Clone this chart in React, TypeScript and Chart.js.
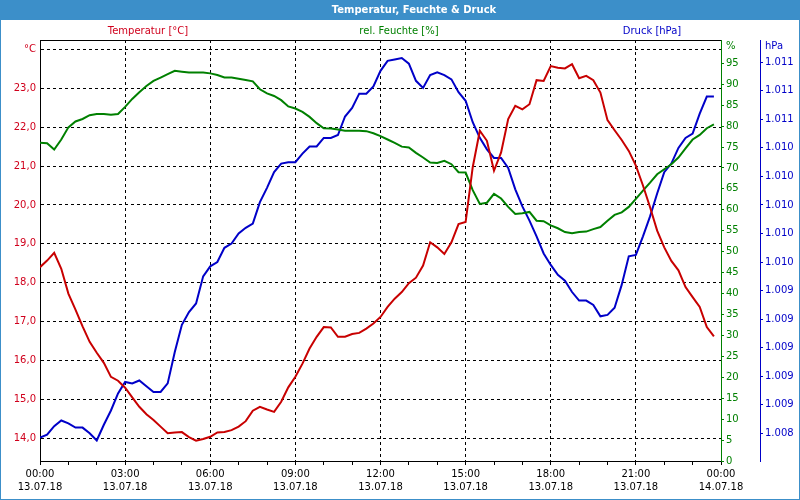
import React, { useEffect, useRef } from "react";
import { Chart, registerables } from "chart.js";

Chart.register(...registerables);

const times = [
  0, 0.25, 0.5, 0.75, 1, 1.25, 1.5, 1.75, 2, 2.25, 2.5, 2.75,
  3, 3.25, 3.5, 3.75, 4, 4.25, 4.5, 4.75, 5, 5.25, 5.5, 5.75,
  6, 6.25, 6.5, 6.75, 7, 7.25, 7.5, 7.75, 8, 8.25, 8.5, 8.75,
  9, 9.25, 9.5, 9.75, 10, 10.25, 10.5, 10.75, 11, 11.25, 11.5, 11.75,
  12, 12.25, 12.5, 12.75, 13, 13.25, 13.5, 13.75, 14, 14.25, 14.5, 14.75,
  15, 15.25, 15.5, 15.75, 16, 16.25, 16.5, 16.75, 17, 17.25, 17.5, 17.75,
  18, 18.25, 18.5, 18.75, 19, 19.25, 19.5, 19.75, 20, 20.25, 20.5, 20.75,
  21, 21.25, 21.5, 21.75, 22, 22.25, 22.5, 22.75, 23, 23.25, 23.5, 23.75,
];

const temperature = [
  18.40, 18.57, 18.77, 18.36, 17.72, 17.31, 16.88, 16.48, 16.20, 15.94, 15.58, 15.48,
  15.30, 15.05, 14.81, 14.62, 14.47, 14.30, 14.13, 14.15, 14.16, 14.03, 13.94, 13.98,
  14.04, 14.15, 14.16, 14.21, 14.30, 14.44, 14.71, 14.81, 14.74, 14.68, 14.94, 15.31,
  15.58, 15.92, 16.31, 16.61, 16.86, 16.85, 16.61, 16.61, 16.68, 16.71, 16.82, 16.95,
  17.12, 17.38, 17.59, 17.76, 17.99, 18.13, 18.44, 19.04, 18.91, 18.74, 19.04, 19.51,
  19.56, 20.97, 21.91, 21.65, 20.88, 21.35, 22.21, 22.55, 22.46, 22.59, 23.21, 23.19,
  23.57, 23.53, 23.51, 23.62, 23.26, 23.32, 23.21, 22.89, 22.18, 21.92, 21.67, 21.39,
  21.01, 20.50, 19.94, 19.34, 18.91, 18.56, 18.32, 17.89, 17.63, 17.38, 16.86, 16.62,
];

const humidity = [
  76.0, 75.9, 74.4, 76.8, 79.7, 81.1, 81.7, 82.6, 82.9, 82.9, 82.7, 82.9,
  84.6, 86.5, 88.1, 89.6, 90.8, 91.6, 92.4, 93.2, 93.0, 92.8, 92.8, 92.8,
  92.6, 92.2, 91.6, 91.6, 91.3, 91.0, 90.7, 88.8, 87.8, 87.2, 86.2, 84.7,
  84.2, 83.4, 82.2, 80.7, 79.5, 79.4, 79.2, 78.9, 78.9, 78.9, 78.8, 78.3,
  77.6, 76.8, 76.0, 75.1, 74.9, 73.6, 72.5, 71.3, 71.2, 71.7, 70.9, 69.0,
  68.9, 64.7, 61.4, 61.7, 63.8, 62.7, 60.7, 59.0, 59.2, 59.5, 57.4, 57.3,
  56.3, 55.6, 54.7, 54.4, 54.7, 54.8, 55.4, 55.9, 57.4, 58.8, 59.4, 60.7,
  62.6, 64.6, 66.5, 68.5, 69.7, 70.9, 72.5, 74.7, 76.8, 77.9, 79.5, 80.4,
];

const pressure = [
  1008.37, 1008.39, 1008.45, 1008.49, 1008.47, 1008.44, 1008.44, 1008.40, 1008.35, 1008.46, 1008.56, 1008.68,
  1008.76, 1008.75, 1008.77, 1008.73, 1008.69, 1008.69, 1008.75, 1008.97, 1009.16, 1009.25, 1009.31, 1009.50,
  1009.57, 1009.60, 1009.70, 1009.73, 1009.80, 1009.84, 1009.87, 1010.02, 1010.12, 1010.23, 1010.29, 1010.30,
  1010.30, 1010.36, 1010.41, 1010.41, 1010.47, 1010.47, 1010.49, 1010.62, 1010.68, 1010.78, 1010.78, 1010.83,
  1010.94, 1011.01, 1011.02, 1011.03, 1010.99, 1010.87, 1010.82, 1010.91, 1010.93, 1010.91, 1010.88, 1010.79,
  1010.73, 1010.58, 1010.47, 1010.39, 1010.33, 1010.33, 1010.26, 1010.11, 1009.99, 1009.89, 1009.78, 1009.66,
  1009.58, 1009.51, 1009.47, 1009.39, 1009.33, 1009.33, 1009.30, 1009.22, 1009.23, 1009.28, 1009.44, 1009.64,
  1009.65, 1009.78, 1009.92, 1010.08, 1010.23, 1010.29, 1010.40, 1010.47, 1010.50, 1010.64, 1010.76, 1010.76,
];

const tempTicks = [14, 15, 16, 17, 18, 19, 20, 21, 22, 23, 24];
const humidityTicks = [0, 5, 10, 15, 20, 25, 30, 35, 40, 45, 50, 55, 60, 65, 70, 75, 80, 85, 90, 95];
const pressureTicks = [1008.4, 1008.6, 1008.8, 1009.0, 1009.2, 1009.4, 1009.6, 1009.8, 1010.0, 1010.2, 1010.4, 1010.6, 1010.8, 1011.0];
const timeLabels = ["00:00", "03:00", "06:00", "09:00", "12:00", "15:00", "18:00", "21:00", "00:00"];
const dateLabels = ["13.07.18", "13.07.18", "13.07.18", "13.07.18", "13.07.18", "13.07.18", "13.07.18", "13.07.18", "14.07.18"];

const TITLE = "Temperatur, Feuchte & Druck";
const RED = "#c80000";
const RED_TEXT = "#d0001c";
const GREEN = "#008000";
const BLUE = "#0000c8";
const FRAME = "#3c8fc9";
const FONT = "DejaVu Sans";

const framePlugin = {
  id: "frame",
  beforeDraw(chart: any) {
    const ctx = chart.ctx;
    const w = chart.width;
    const h = chart.height;
    ctx.save();
    ctx.fillStyle = "#ffffff";
    ctx.fillRect(0, 0, w, h);
    ctx.fillStyle = FRAME;
    ctx.fillRect(0, 0, w, 20);
    ctx.strokeStyle = FRAME;
    ctx.lineWidth = 1;
    ctx.strokeRect(0.5, 0.5, w - 1, h - 1);
    ctx.fillStyle = "#ffffff";
    ctx.font = `bold 10px "${FONT}"`;
    ctx.textAlign = "center";
    ctx.textBaseline = "middle";
    ctx.fillText(TITLE, 414, 10);
    ctx.font = `10px "${FONT}"`;
    ctx.fillStyle = RED_TEXT;
    ctx.fillText("Temperatur [°C]", 148, 31);
    ctx.fillStyle = GREEN;
    ctx.fillText("rel. Feuchte [%]", 399, 31);
    ctx.fillStyle = BLUE;
    ctx.fillText("Druck [hPa]", 652, 31);
    ctx.textAlign = "left";
    ctx.fillStyle = GREEN;
    ctx.fillText("%", 726, 46);
    ctx.fillStyle = BLUE;
    ctx.fillText("hPa", 765, 46);
    ctx.restore();
  },
  afterDraw(chart: any) {
    const { ctx, chartArea } = chart;
    ctx.save();
    ctx.strokeStyle = "#000000";
    ctx.lineWidth = 1;
    ctx.beginPath();
    ctx.moveTo(chartArea.left, chartArea.top + 0.5);
    ctx.lineTo(chartArea.right, chartArea.top + 0.5);
    ctx.stroke();
    ctx.restore();
  },
};

function toPoints(values: number[]) {
  return values.map((v, i) => ({ x: times[i], y: v }));
}

export default function App() {
  const ref = useRef<HTMLCanvasElement | null>(null);

  useEffect(() => {
    if (!ref.current) return;
    const tickFont = { family: FONT, size: 10 };
    const chart = new Chart(ref.current, {
      type: "line",
      data: {
        datasets: [
          { label: "Temperatur", data: toPoints(temperature), yAxisID: "yT", borderColor: RED, borderWidth: 2, pointRadius: 0, tension: 0 },
          { label: "rel. Feuchte", data: toPoints(humidity), yAxisID: "yH", borderColor: GREEN, borderWidth: 2, pointRadius: 0, tension: 0 },
          { label: "Druck", data: toPoints(pressure), yAxisID: "yP", borderColor: BLUE, borderWidth: 2, pointRadius: 0, tension: 0 },
        ],
      },
      options: {
        responsive: false,
        animation: false,
        layout: { padding: { top: 40, left: 0, right: 0, bottom: 0 } },
        plugins: { legend: { display: false }, tooltip: { enabled: false }, title: { display: false } },
        scales: {
          x: {
            type: "linear",
            min: 0,
            max: 24,
            afterFit: (s: any) => { s.height = 39; },
            ticks: {
              stepSize: 1,
              autoSkip: false,
              maxRotation: 0,
              minRotation: 0,
              padding: 3,
              color: "#000000",
              font: { ...tickFont, lineHeight: 1.3 },
              callback: (v: any) => {
                const n = Number(v);
                if (n % 3 !== 0) return "";
                const i = n / 3;
                return [timeLabels[i], dateLabels[i]];
              },
            },
            grid: {
              color: (c: any) => {
                const v = c.tick ? c.tick.value : 0;
                return v % 3 === 0 && v !== 0 && v !== 24 ? "#000000" : "rgba(0,0,0,0)";
              },
              tickColor: "#000000",
              tickLength: 4,
              lineWidth: 1,
            },
            border: { color: "#000000", width: 1, dash: [3, 3] },
          },
          yT: {
            type: "linear",
            position: "left",
            min: 13.416,
            max: 24.242,
            afterFit: (s: any) => { s.width = 40; },
            afterBuildTicks: (s: any) => { s.ticks = tempTicks.map((v) => ({ value: v })); },
            ticks: {
              padding: 4,
              color: RED_TEXT,
              font: tickFont,
              callback: (v: any) => (Number(v) === 24 ? "°C" : Number(v).toFixed(1).replace(".", ",")),
            },
            grid: { color: "#000000", drawTicks: false, lineWidth: 1 },
            border: { color: "#000000", width: 1, dash: [3, 3] },
          },
          yH: {
            type: "linear",
            position: "right",
            weight: 1,
            min: 0,
            max: 100.57,
            afterFit: (s: any) => { s.width = 39; },
            afterBuildTicks: (s: any) => { s.ticks = humidityTicks.map((v) => ({ value: v })); },
            ticks: { padding: 2, color: GREEN, font: tickFont, callback: (v: any) => String(v) },
            grid: { drawOnChartArea: false, drawTicks: true, tickLength: 3, color: GREEN, tickColor: GREEN },
            border: { color: GREEN, width: 1 },
          },
          yP: {
            type: "linear",
            position: "right",
            weight: 2,
            min: 1008.206,
            max: 1011.156,
            afterFit: (s: any) => { s.width = 40; },
            afterBuildTicks: (s: any) => { s.ticks = pressureTicks.map((v) => ({ value: v })); },
            ticks: {
              padding: 2,
              color: BLUE,
              font: tickFont,
              callback: (v: any) => (Math.round(Number(v)) / 1000).toFixed(3),
            },
            grid: { drawOnChartArea: false, drawTicks: true, tickLength: 3, color: BLUE, tickColor: BLUE },
            border: { color: BLUE, width: 1 },
          },
        },
      },
      plugins: [framePlugin],
    } as any);
    return () => chart.destroy();
  }, []);

  return (
    <div style={{ position: "fixed", left: 0, top: 0, width: 800, height: 500, background: "#fff" }}>
      <canvas ref={ref} width={800} height={500} style={{ display: "block", width: 800, height: 500 }} />
    </div>
  );
}
